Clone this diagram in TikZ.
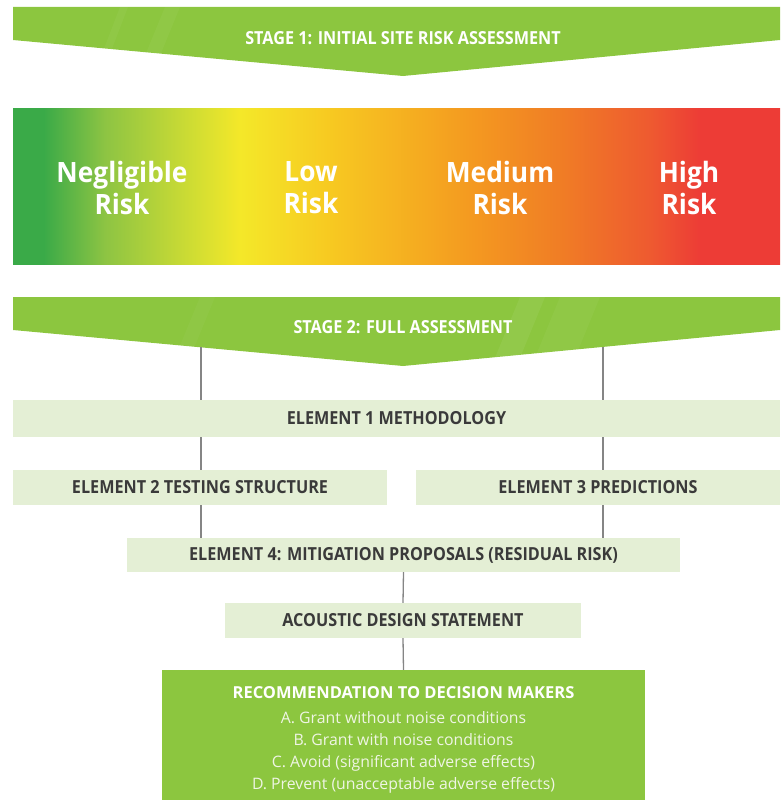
\documentclass[tikz,border=0pt]{standalone}
\usepackage{fontspec}
\setmainfont{Open Sans}
\newfontfamily\condfont[FakeStretch=0.9]{Open Sans}
\newfontfamily\riskfont[FakeStretch=0.94]{Open Sans}
\usetikzlibrary{positioning, calc}

\definecolor{bannergreen}{HTML}{8CC63F}
\definecolor{boxgreen}{HTML}{E4EFD5}
\definecolor{darktext}{HTML}{3A3A3A}
\definecolor{linkgray}{HTML}{858585}
\definecolor{softwhite}{HTML}{EFF5E4}
\definecolor{rgreen}{HTML}{3AAA48}
\definecolor{rlime}{HTML}{8DC443}
\definecolor{ryellowgreen}{HTML}{D3DE32}
\definecolor{ryellow}{HTML}{F4E829}
\definecolor{ramber}{HTML}{F7C921}
\definecolor{rorange}{HTML}{F49A20}
\definecolor{rdeeporange}{HTML}{F07D25}
\definecolor{rredorange}{HTML}{EE5A30}
\definecolor{rred}{HTML}{ED3C36}

% the risk bar runs from 25bp to 75bp of the shading
\pgfdeclarehorizontalshading{riskscale}{100bp}{color(0bp)=(rgreen); color(25bp)=(rgreen);
  color(27bp)=(rgreen); color(31bp)=(rlime); color(37bp)=(ryellowgreen); color(39.8bp)=(ryellow);
  color(45.7bp)=(ramber); color(54.8bp)=(rorange); color(60.7bp)=(rdeeporange);
  color(66.5bp)=(rredorange); color(69.8bp)=(rred); color(75bp)=(rred); color(100bp)=(rred)}

\begin{document}
\begin{tikzpicture}[x=1pt, y=1pt,
    stagetext/.style={text=white, font=\condfont\bfseries\fontsize{18}{21}\selectfont},
    risk/.style={text=white, align=center, font=\riskfont\bfseries\fontsize{28}{32}\selectfont},
    elbox/.style={fill=boxgreen, inner sep=0pt, text=darktext, font=\condfont\bfseries\fontsize{18}{21}\selectfont},
    recbox/.style={fill=bannergreen, inner sep=0pt, align=center, text=softwhite, font=\fontsize{15.8}{22}\selectfont},
    link/.style={draw=linkgray, line width=1.3pt}]

\useasboundingbox (0,0) rectangle (780,-800);

% stage 1 banner
\fill[bannergreen] (13,-7) -- (780,-7) -- (780,-40) -- (403,-76) -- (13,-40) -- cycle;
\begin{scope}
  \clip (13,-7) -- (780,-7) -- (780,-40) -- (403,-76) -- (13,-40) -- cycle;
  \fill[white, opacity=0.04] (120,-7) -- (128,-7) -- (100,-80) -- (92,-80) -- cycle;
  \fill[white, opacity=0.04] (165,-7) -- (180,-7) -- (150,-80) -- (135,-80) -- cycle;
\end{scope}
\node[stagetext] (stage1) at (403,-38) {STAGE 1: INITIAL SITE RISK ASSESSMENT};

% risk scale
\shade[shading=riskscale] (13,-108) rectangle (780,-264);
\node[risk] (negligible) at (122,-188) {Negligible\\Risk};
\node[risk] (low) at (311,-188) {Low\\Risk};
\node[risk] (medium) at (500,-188) {Medium\\Risk};
\node[risk] (high) at (689,-188) {High\\Risk};

% stage 2 banner
\fill[bannergreen] (13,-297) -- (780,-297) -- (780,-330) -- (403,-366) -- (13,-330) -- cycle;
\begin{scope}
  \clip (13,-297) -- (780,-297) -- (780,-330) -- (403,-366) -- (13,-330) -- cycle;
  \fill[white, opacity=0.06] (520,-297) -- (545,-297) -- (515,-370) -- (490,-370) -- cycle;
  \fill[white, opacity=0.04] (560,-297) -- (600,-297) -- (570,-370) -- (530,-370) -- cycle;
  \fill[white, opacity=0.03] (200,-297) -- (215,-297) -- (185,-370) -- (170,-370) -- cycle;
\end{scope}
\node[stagetext] (stage2) at (403,-327) {STAGE 2: FULL ASSESSMENT};
\coordinate (s2a) at (201,-347);
\coordinate (s2b) at (603,-347);

% elements
\node[elbox, minimum width=767, minimum height=37] (el1) at (396.5,-418.5) {ELEMENT 1 METHODOLOGY};
\node[elbox, minimum width=374, minimum height=35] (el2) at (200,-487.5) {ELEMENT 2 TESTING STRUCTURE};
\node[elbox, minimum width=364, minimum height=35] (el3) at (598,-487.5) {ELEMENT 3 PREDICTIONS};
\node[elbox, minimum width=553, minimum height=34] (el4) at (403.5,-555) {ELEMENT 4: MITIGATION PROPOSALS (RESIDUAL RISK)};
\node[elbox, minimum width=356, minimum height=35] (ads) at (403,-620.5) {ACOUSTIC DESIGN STATEMENT};
\node[recbox, minimum width=483, minimum height=140] (rec) at (403.5,-740)
  {{\color{white}\bfseries\fontsize{16.5}{22}\selectfont RECOMMENDATION TO DECISION MAKERS}\\[3pt]
   A. Grant without noise conditions\\
   B. Grant with noise conditions\\
   C. Avoid (significant adverse effects)\\
   D. Prevent (unacceptable adverse effects)};

% connectors
\draw[link] (s2a) -- (s2a |- el1.north);
\draw[link] (s2b) -- (s2b |- el1.north);
\draw[link] (s2a |- el1.south) -- (s2a |- el2.north);
\draw[link] (s2b |- el1.south) -- (s2b |- el3.north);
\draw[link] (s2a |- el2.south) -- (s2a |- el4.north);
\draw[link] (s2b |- el3.south) -- (s2b |- el4.north);
\draw[link] (el4.south) -- (ads.north);
\draw[link] (ads.south) -- (rec.north);
\end{tikzpicture}
\end{document}
